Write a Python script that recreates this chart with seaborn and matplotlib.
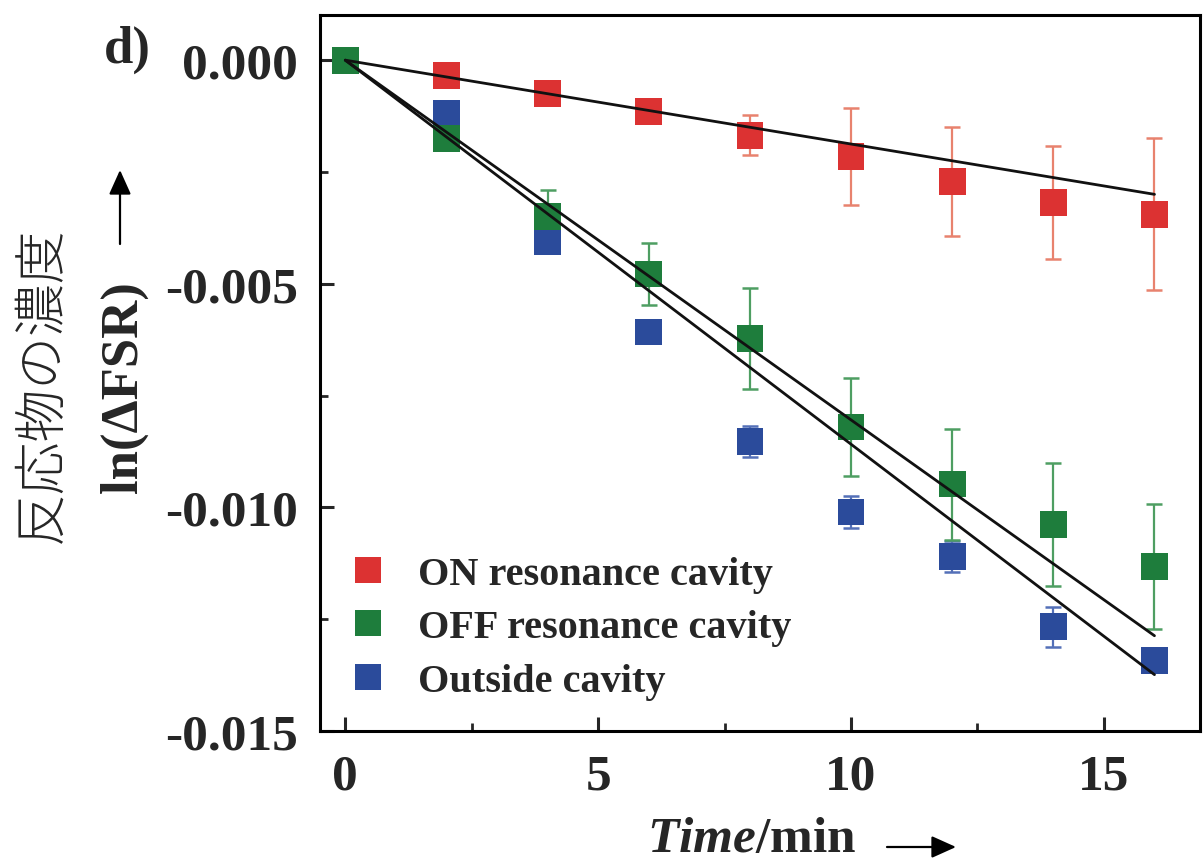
import numpy as np
import pandas as pd
import matplotlib
matplotlib.use("Agg")
import matplotlib.pyplot as plt
from matplotlib.patches import ArrowStyle
import seaborn as sns

# ---- data ----
time_min = [0, 2, 4, 6, 8, 10, 12, 14, 16]
on_vals = [0.0, -0.00034, -0.00074, -0.00114, -0.00168, -0.00216, -0.00271, -0.00318, -0.00345]
on_err = [0.0, 0.0002, 0.0002, 0.0002, 0.00045, 0.00108, 0.00122, 0.00127, 0.0017]
off_vals = [0.0, -0.00175, -0.0035, -0.00478, -0.00623, -0.0082, -0.00948, -0.01038, -0.01132]
off_err = [0.0, 0.0002, 0.0006, 0.0007, 0.00113, 0.00109, 0.00124, 0.00138, 0.0014]
out_vals = [0.0, -0.00119, -0.00406, -0.00608, -0.00852, -0.0101, -0.0111, -0.01267, -0.01343]
out_err = [0.0, 0.0001, 0.0002, 0.0002, 0.00035, 0.00035, 0.00035, 0.00045, 0.0002]

fit_x = [0, 16]
fit_on = [0.0, -0.0030]
fit_off = [0.0, -0.01287]
fit_out = [0.0, -0.01374]

series_names = ["ON resonance cavity", "OFF resonance cavity", "Outside cavity"]
xticks = [0, 5, 10, 15]
xtick_labels = ["0", "5", "10", "15"]
yticks = [0.0, -0.005, -0.010, -0.015]
ytick_labels = ["0.000", "-0.005", "-0.010", "-0.015"]

colors = {"ON resonance cavity": "#DC3232",
          "OFF resonance cavity": "#1E7D3C",
          "Outside cavity": "#2B4B9B"}
err_colors = {"ON resonance cavity": "#E8826E",
              "OFF resonance cavity": "#4E9E62",
              "Outside cavity": "#5470B8"}

sns.set_style("ticks")
plt.rcParams["font.family"] = ["Liberation Serif", "DejaVu Serif"]
plt.rcParams["font.weight"] = "bold"
plt.rcParams["mathtext.fontset"] = "custom"
plt.rcParams["mathtext.rm"] = "Liberation Serif:bold"
plt.rcParams["mathtext.it"] = "Liberation Serif:italic:bold"
plt.rcParams["axes.unicode_minus"] = False

# draw order: ON, Outside, OFF (OFF on top at t=0)
frames = []
for name, vals, errs in [(series_names[0], on_vals, on_err),
                         (series_names[2], out_vals, out_err),
                         (series_names[1], off_vals, off_err)]:
    frames.append(pd.DataFrame({"time": time_min, "val": vals, "err": errs, "series": name}))
df = pd.concat(frames, ignore_index=True)

fig = plt.figure(figsize=(12.04, 8.62), dpi=100)
ax = fig.add_axes([320 / 1204, 1 - 732 / 862, 880 / 1204, 716 / 862])

# error bars
for name in [series_names[0], series_names[2], series_names[1]]:
    sub = df[(df.series == name) & (df.err > 0)]
    ax.errorbar(sub.time, sub.val, yerr=sub.err, fmt="none", ecolor=err_colors[name],
                elinewidth=1.6, capsize=5.5, capthick=1.8, zorder=2)

sns.scatterplot(data=df, x="time", y="val", hue="series", hue_order=series_names,
                palette=colors, marker="s", s=370, linewidth=0, ax=ax, zorder=3)

# fit lines
fit_df = pd.DataFrame({"time": fit_x * 3,
                       "val": fit_on + fit_off + fit_out,
                       "fit": ["on"] * 2 + ["off"] * 2 + ["out"] * 2})
sns.lineplot(data=fit_df, x="time", y="val", units="fit", estimator=None,
             color="#111111", linewidth=2.0, ax=ax, zorder=4, legend=False)

ax.set_xlim(-0.5, 16.9)
ax.set_ylim(-0.015, 0.00101)
ax.set_xticks(xticks)
ax.set_xticklabels(xtick_labels)
ax.set_xticks([2.5, 7.5, 12.5], minor=True)
ax.set_yticks(yticks)
ax.set_yticklabels(ytick_labels)
ax.set_yticks([-0.0025, -0.0075, -0.0125], minor=True)
ax.tick_params(axis="both", which="major", direction="in", length=10, width=2.2,
               labelsize=37, pad=16, top=False, right=False)
ax.tick_params(axis="both", which="minor", direction="in", length=6, width=2.0,
               top=False, right=False)
for lab in ax.get_xticklabels() + ax.get_yticklabels():
    lab.set_fontweight("bold")
for sp in ax.spines.values():
    sp.set_linewidth(2.2)
    sp.set_color("black")
    sp.set_visible(True)
ax.set_xlabel("")
ax.set_ylabel("")

leg = ax.legend(loc="upper left", bbox_to_anchor=(0.0318, 0.245), frameon=False,
                prop={"family": "Liberation Serif", "weight": "bold", "size": 29},
                handlelength=1.0, handletextpad=0.74, labelspacing=0.41,
                borderpad=0, borderaxespad=0)
for h in leg.legend_handles:
    if hasattr(h, "set_markersize"):
        h.set_markersize(19.2)
    elif hasattr(h, "set_sizes"):
        h.set_sizes([370])

# labels
fig.text(752 / 1204, 1 - 840 / 862, r"$\it{Time}$/min", ha="center", va="center",
         fontsize=37, fontweight="bold")
fig.text(124 / 1204, 1 - 387 / 862, "ln(ΔFSR)", rotation=90, ha="center", va="center",
         fontsize=38, fontweight="bold")
fig.text(42 / 1204, 1 - 385 / 862, "反応物の濃度", rotation=90, ha="center", va="center",
         fontsize=38, fontweight="light", family=["Noto Sans CJK JP", "DejaVu Sans"])
fig.text(127 / 1204, 1 - 50 / 862, "d)", ha="center", va="center", fontsize=38,
         fontweight="bold")

# label arrows
astyle = ArrowStyle("-|>", head_length=1.0, head_width=0.45)
ax.annotate("", xy=(120 / 1204, 1 - 171 / 862), xytext=(120 / 1204, 1 - 245 / 862),
            xycoords="figure fraction", textcoords="figure fraction",
            arrowprops=dict(arrowstyle=astyle, lw=1.6, color="black",
                            mutation_scale=15, shrinkA=0, shrinkB=0),
            annotation_clip=False)
ax.annotate("", xy=(956 / 1204, 1 - 848 / 862), xytext=(887 / 1204, 1 - 848 / 862),
            xycoords="figure fraction", textcoords="figure fraction",
            arrowprops=dict(arrowstyle=astyle, lw=1.6, color="black",
                            mutation_scale=15, shrinkA=0, shrinkB=0),
            annotation_clip=False)

fig.savefig("out.png", dpi=100)
